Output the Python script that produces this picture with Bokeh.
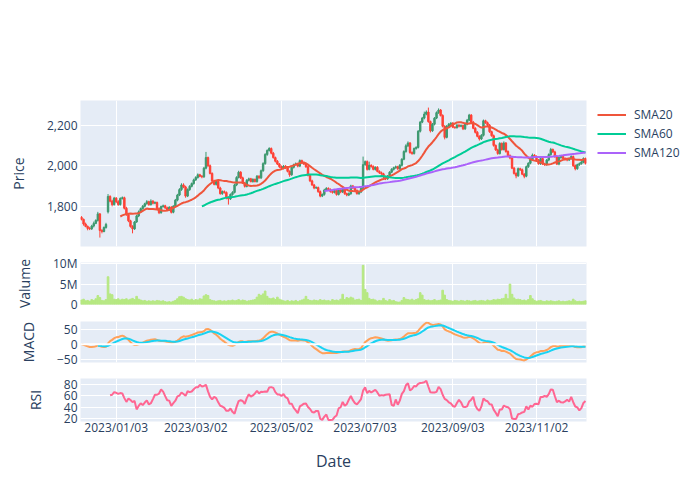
import pandas as pd
from bokeh.plotting import figure
from bokeh.layouts import column
from bokeh.models import (ColumnDataSource, Range1d, FixedTicker, NumeralTickFormatter,
                          Legend, LegendItem, Span)
from bokeh.embed import file_html
from bokeh.resources import INLINE

# ---------------- data ----------------
tick_labels = ["2023/01/03", "2023/03/02", "2023/05/02", "2023/07/03", "2023/09/03", "2023/11/02"]
tick_index = [17, 56, 98, 139, 182, 223]

opens = [
    1745, 1735, 1712, 1700, 1690, 1688, 1702, 1715, 1730, 1762,
    1680, 1675, 1695, 1772, 1848, 1825, 1808, 1840, 1822, 1808,
    1838, 1842, 1790, 1758, 1728, 1700, 1688, 1722, 1752, 1772,
    1788, 1800, 1812, 1822, 1808, 1825, 1815, 1818, 1788, 1768,
    1798, 1802, 1792, 1782, 1795, 1770, 1800, 1830, 1855, 1882,
    1905, 1895, 1850, 1882, 1898, 1912, 1930, 1942, 1955, 1948,
    1945, 1988, 2040, 2000, 1962, 1925, 1908, 1922, 1890, 1862,
    1872, 1868, 1842, 1836, 1858, 1868, 1905, 1942, 1968, 1940,
    1915, 1898, 1928, 1935, 1922, 1932, 1922, 1948, 1940, 1975,
    2010, 2055, 2075, 2085, 2062, 2040, 2022, 2008, 1995, 1988,
    1998, 1990, 1972, 1955, 1992, 2005, 2010, 1998, 2025, 2015,
    2008, 1995, 1952, 1925, 1905, 1890, 1892, 1872, 1850, 1858,
    1880, 1888, 1882, 1872, 1868, 1878, 1858, 1880, 1870, 1888,
    1862, 1855, 1862, 1900, 1890, 1878, 1862, 1870, 1888, 2005,
    2020, 1982, 2002, 1996, 1982, 1992, 1972, 1965, 1960, 1945,
    1935, 1948, 1968, 1982, 1990, 1995, 1985, 2002, 2032, 2070,
    2098, 2112, 2065, 2060, 2085, 2090, 2170, 2215, 2235, 2255,
    2265, 2218, 2172, 2205, 2235, 2262, 2275, 2248, 2195, 2140,
    2195, 2205, 2210, 2190, 2188, 2200, 2195, 2198, 2182, 2205,
    2225, 2250, 2215, 2185, 2165, 2145, 2132, 2150, 2222, 2212,
    2200, 2168, 2148, 2100, 2078, 2060, 2110, 2080, 2112, 2070,
    2050, 2038, 1988, 1962, 1950, 1985, 1980, 1958, 1948, 1995,
    2012, 2030, 2052, 2045, 2028, 2010, 2035, 2008, 2005, 2028,
    2055, 2080, 2068, 2045, 2008, 2040, 2045, 2036, 2030, 2028,
    2035, 2045, 2000, 1985, 2005, 2010, 2018, 2035,
]

highs = [
    1751, 1739, 1719, 1705, 1698, 1708, 1724, 1735, 1772, 1766,
    1687, 1700, 1718, 1860, 1854, 1832, 1846, 1845, 1830, 1844,
    1848, 1847, 1797, 1764, 1733, 1706, 1727, 1758, 1779, 1793,
    1806, 1817, 1830, 1827, 1834, 1830, 1824, 1823, 1794, 1803,
    1808, 1807, 1798, 1800, 1801, 1805, 1836, 1861, 1889, 1913,
    1913, 1901, 1888, 1904, 1917, 1936, 1948, 1962, 1960, 1954,
    1994, 2068, 2045, 2006, 1967, 1931, 1928, 1927, 1896, 1878,
    1878, 1873, 1848, 1863, 1874, 1911, 1948, 1975, 1973, 1946,
    1920, 1934, 1941, 1940, 1938, 1937, 1954, 1953, 1981, 2017,
    2062, 2081, 2091, 2090, 2068, 2045, 2028, 2013, 2001, 2003,
    2003, 1996, 1977, 1998, 2010, 2016, 2015, 2031, 2030, 2021,
    2013, 2001, 1957, 1931, 1910, 1898, 1897, 1878, 1863, 1886,
    1894, 1893, 1888, 1877, 1884, 1883, 1886, 1885, 1894, 1893,
    1867, 1868, 1906, 1905, 1896, 1883, 1876, 1893, 2045, 2026,
    2026, 2020, 2007, 2002, 1997, 1998, 1977, 1971, 1965, 1951,
    1954, 1973, 1988, 1995, 2001, 2000, 2008, 2037, 2076, 2106,
    2120, 2117, 2071, 2090, 2096, 2176, 2221, 2241, 2267, 2273,
    2287, 2223, 2211, 2240, 2268, 2283, 2280, 2254, 2200, 2201,
    2211, 2215, 2216, 2195, 2206, 2205, 2204, 2203, 2211, 2231,
    2256, 2255, 2221, 2190, 2171, 2150, 2156, 2228, 2227, 2218,
    2206, 2173, 2154, 2105, 2084, 2116, 2115, 2120, 2117, 2076,
    2056, 2043, 1994, 1967, 1991, 1990, 1986, 1963, 2001, 2017,
    2036, 2060, 2057, 2051, 2033, 2041, 2040, 2014, 2033, 2061,
    2088, 2085, 2074, 2050, 2046, 2050, 2051, 2041, 2036, 2040,
    2051, 2050, 2006, 2010, 2016, 2023, 2041, 2040,
]

lows = [
    1730, 1704, 1696, 1681, 1682, 1683, 1695, 1711, 1724, 1645,
    1666, 1671, 1689, 1764, 1819, 1799, 1803, 1815, 1802, 1803,
    1833, 1784, 1753, 1721, 1694, 1666, 1683, 1718, 1746, 1767,
    1783, 1794, 1808, 1802, 1803, 1809, 1810, 1782, 1761, 1763,
    1793, 1786, 1777, 1776, 1764, 1765, 1795, 1824, 1850, 1876,
    1889, 1842, 1845, 1876, 1893, 1906, 1925, 1936, 1943, 1938,
    1940, 1982, 1994, 1957, 1919, 1903, 1902, 1884, 1857, 1856,
    1862, 1834, 1808, 1831, 1852, 1863, 1899, 1937, 1934, 1910,
    1892, 1893, 1922, 1917, 1916, 1917, 1916, 1935, 1934, 1970,
    2005, 2049, 2070, 2056, 2035, 2016, 2003, 1989, 1983, 1982,
    1984, 1967, 1945, 1950, 1986, 2000, 1992, 1993, 2009, 2003,
    1989, 1947, 1919, 1900, 1884, 1885, 1866, 1844, 1845, 1852,
    1875, 1876, 1867, 1862, 1863, 1852, 1853, 1864, 1865, 1856,
    1849, 1850, 1856, 1885, 1872, 1857, 1856, 1865, 1882, 2000,
    1976, 1977, 1990, 1977, 1976, 1967, 1959, 1955, 1939, 1929,
    1930, 1942, 1963, 1976, 1985, 1979, 1980, 1996, 2027, 2064,
    2092, 2059, 2054, 2055, 2079, 2085, 2164, 2210, 2229, 2249,
    2212, 2164, 2167, 2199, 2230, 2256, 2243, 2189, 2130, 2135,
    2190, 2199, 2185, 2182, 2183, 2189, 2190, 2176, 2177, 2199,
    2220, 2209, 2180, 2159, 2140, 2124, 2127, 2144, 2207, 2194,
    2162, 2143, 2094, 2073, 2054, 2055, 2074, 2075, 2064, 2045,
    2032, 1983, 1956, 1938, 1945, 1974, 1953, 1938, 1943, 1989,
    2007, 2024, 2040, 2022, 2005, 2004, 2003, 1999, 2000, 2022,
    2049, 2063, 2039, 2003, 2002, 2035, 2030, 2025, 2022, 2023,
    2030, 1994, 1977, 1980, 1999, 2005, 2012, 2006,
]

closes = [
    1735, 1712, 1700, 1690, 1688, 1702, 1715, 1730, 1762, 1680,
    1675, 1695, 1710, 1848, 1825, 1808, 1840, 1822, 1808, 1838,
    1842, 1790, 1758, 1728, 1700, 1688, 1722, 1752, 1772, 1788,
    1800, 1812, 1822, 1808, 1825, 1815, 1818, 1788, 1768, 1798,
    1802, 1792, 1782, 1795, 1770, 1800, 1830, 1855, 1882, 1905,
    1895, 1850, 1882, 1898, 1912, 1930, 1942, 1955, 1948, 1945,
    1988, 2040, 2000, 1962, 1925, 1908, 1922, 1890, 1862, 1872,
    1868, 1842, 1836, 1858, 1868, 1905, 1942, 1968, 1940, 1915,
    1898, 1928, 1935, 1922, 1932, 1922, 1948, 1940, 1975, 2010,
    2055, 2075, 2085, 2062, 2040, 2022, 2008, 1995, 1988, 1998,
    1990, 1972, 1955, 1992, 2005, 2010, 1998, 2025, 2015, 2008,
    1995, 1952, 1925, 1905, 1890, 1892, 1872, 1850, 1858, 1880,
    1888, 1882, 1872, 1868, 1878, 1858, 1880, 1870, 1888, 1862,
    1855, 1862, 1900, 1890, 1878, 1862, 1870, 1888, 2005, 2020,
    1982, 2002, 1996, 1982, 1992, 1972, 1965, 1960, 1945, 1935,
    1948, 1968, 1982, 1990, 1995, 1985, 2002, 2032, 2070, 2098,
    2112, 2065, 2060, 2085, 2090, 2170, 2215, 2235, 2255, 2265,
    2218, 2172, 2205, 2235, 2262, 2275, 2248, 2195, 2140, 2195,
    2205, 2210, 2190, 2188, 2200, 2195, 2198, 2182, 2205, 2225,
    2250, 2215, 2185, 2165, 2145, 2132, 2150, 2222, 2212, 2200,
    2168, 2148, 2100, 2078, 2060, 2110, 2080, 2112, 2070, 2050,
    2038, 1988, 1962, 1950, 1985, 1980, 1958, 1948, 1995, 2012,
    2030, 2052, 2045, 2028, 2010, 2035, 2008, 2005, 2028, 2055,
    2080, 2068, 2045, 2008, 2040, 2045, 2036, 2030, 2028, 2035,
    2045, 2000, 1985, 2005, 2010, 2018, 2035, 2012,
]

volume_millions = [
    1.1, 1.3, 0.9, 1.0, 0.8, 1.2, 1.0, 1.4, 2.2, 1.7,
    1.0, 0.9, 1.2, 6.8, 2.6, 2.4, 1.3, 1.2, 1.4, 1.1,
    1.3, 1.2, 1.4, 1.1, 1.3, 1.5, 1.2, 2.0, 1.3, 1.1,
    0.9, 1.0, 0.8, 0.9, 0.8, 0.9, 0.8, 1.0, 0.9, 0.8,
    0.9, 0.7, 0.6, 0.7, 0.6, 0.8, 1.0, 1.4, 1.9, 2.0,
    1.8, 1.4, 1.2, 1.1, 1.3, 1.0, 1.2, 1.1, 1.4, 1.3,
    2.1, 2.4, 2.2, 1.2, 1.0, 0.9, 0.8, 0.9, 1.0, 0.8,
    0.9, 0.8, 1.0, 0.9, 1.1, 0.9, 1.0, 1.2, 0.9, 1.1,
    1.0, 0.8, 0.9, 1.0, 1.1, 1.2, 1.8, 2.5, 2.2, 2.6,
    3.3, 2.0, 1.5, 1.4, 1.6, 1.2, 1.8, 1.3, 1.1, 0.9,
    0.8, 1.0, 0.7, 0.9, 0.8, 1.0, 0.7, 0.9, 1.1, 1.3,
    2.0, 1.2, 1.0, 0.9, 1.1, 1.0, 0.9, 1.2, 1.0, 1.1,
    0.9, 1.0, 0.8, 1.2, 1.0, 1.1, 0.9, 1.3, 2.5, 1.2,
    1.7, 1.5, 1.8, 1.6, 1.1, 1.2, 1.3, 1.0, 9.6, 3.7,
    2.9, 1.5, 1.2, 1.3, 1.1, 0.8, 1.0, 0.9, 1.5, 1.0,
    0.8, 1.2, 0.9, 1.0, 0.7, 0.6, 0.6, 1.0, 1.7, 1.3,
    1.2, 1.1, 1.3, 1.0, 1.2, 1.4, 2.9, 2.3, 1.2, 1.0,
    1.1, 0.9, 1.0, 1.2, 0.9, 1.0, 1.1, 3.5, 2.3, 1.2,
    1.0, 0.9, 0.8, 1.0, 0.9, 0.8, 1.0, 0.9, 0.8, 1.0,
    0.9, 0.8, 0.9, 1.0, 0.8, 0.9, 1.0, 0.9, 0.8, 1.1,
    0.9, 1.0, 1.2, 1.1, 1.3, 1.2, 1.4, 1.5, 2.5, 1.4,
    5.0, 2.5, 1.6, 1.2, 1.3, 1.2, 1.0, 1.1, 0.9, 1.2,
    2.2, 1.4, 1.0, 0.8, 0.9, 1.0, 0.8, 0.7, 0.9, 0.8,
    0.9, 0.8, 0.7, 0.8, 0.9, 0.7, 0.8, 0.7, 0.8, 0.9,
    0.8, 1.3, 0.9, 0.7, 0.8, 0.7, 0.8, 0.9,
]

n = len(closes)
assert len(opens) == n and len(highs) == n and len(lows) == n and len(volume_millions) == n, \
    (len(opens), len(highs), len(lows), len(closes), len(volume_millions))

# ---------------- indicators (derived from the closes) ----------------
idx = list(range(n))
s = pd.Series(closes, dtype=float)
sma20 = s.rolling(20).mean()
sma60 = s.rolling(60).mean()
sma120 = s.rolling(120).mean()
ema12 = s.ewm(span=12, adjust=False).mean()
ema26 = s.ewm(span=26, adjust=False).mean()
macd = ema12 - ema26
signal = macd.ewm(span=9, adjust=False, min_periods=9).mean()
delta = s.diff()
gain = delta.clip(lower=0).rolling(14).mean()
loss = (-delta.clip(upper=0)).rolling(14).mean()
rsi = 100 - 100 / (1 + gain / loss)

INC, DEC = "#3D9970", "#FF4136"
colors = [INC if c >= o else DEC for o, c in zip(opens, closes)]

src = ColumnDataSource(dict(
    x=idx, open=opens, high=highs, low=lows, close=closes,
    top=[max(o, c) for o, c in zip(opens, closes)],
    bottom=[min(o, c) for o, c in zip(opens, closes)],
    color=colors, vol=[v * 1e6 for v in volume_millions],
    sma20=sma20.tolist(), sma60=sma60.tolist(), sma120=sma120.tolist(),
    macd=macd.tolist(), signal=signal.tolist(), rsi=rsi.tolist(),
))

FONT = "Open Sans"
TXT = "#2a3f5f"
BG = "#E5ECF6"
xr = Range1d(-0.5, n - 0.5)


def make_fig(frame_h, yr, top, bottom, yticks, ylabel, bottom_axis=False):
    p = figure(x_range=xr, y_range=Range1d(*yr), frame_width=506, frame_height=frame_h,
               output_backend="svg", toolbar_location=None,
               x_axis_location="below" if bottom_axis else None,
               min_border_left=80, min_border_right=106,
               min_border_top=top, min_border_bottom=bottom,
               background_fill_color=BG, border_fill_color="white")
    p.outline_line_color = None
    for g in p.xgrid:
        g.ticker = FixedTicker(ticks=tick_index)
    p.grid.grid_line_color = "white"
    p.grid.grid_line_width = 1
    ya = p.yaxis[0]
    ya.ticker = FixedTicker(ticks=yticks)
    ya.axis_line_color = None
    ya.major_tick_line_color = None
    ya.minor_tick_line_color = None
    ya.major_tick_out = 0
    ya.major_tick_in = 0
    ya.minor_tick_out = 0
    ya.major_label_standoff = 3
    ya.major_label_text_font = FONT
    ya.major_label_text_font_size = "12px"
    ya.major_label_text_color = TXT
    ya.axis_label = ylabel
    ya.axis_label_text_font = FONT
    ya.axis_label_text_font_size = "14px"
    ya.axis_label_text_font_style = "normal"
    ya.axis_label_text_color = TXT
    ya.axis_label_standoff = 16
    return p


# price panel
p1 = make_fig(146, (1601, 2322), 100, 8, [1800, 2000, 2200], "Price")
p1.yaxis[0].formatter = NumeralTickFormatter(format="0,0")
p1.segment(x0="x", y0="high", x1="x", y1="low", color="color", line_width=1, source=src)
p1.vbar(x="x", width=0.7, top="top", bottom="bottom", fill_color="color",
        line_color="color", line_width=1, source=src)
r20 = p1.line("x", "sma20", color="#EF553B", line_width=2, source=src)
r60 = p1.line("x", "sma60", color="#00CC96", line_width=2, source=src)
r120 = p1.line("x", "sma120", color="#AB63FA", line_width=2, source=src)
legend = Legend(items=[LegendItem(label="SMA20", renderers=[r20]),
                       LegendItem(label="SMA60", renderers=[r60]),
                       LegendItem(label="SMA120", renderers=[r120])],
                location=(11, 84), margin=0, padding=5, spacing=0,
                glyph_width=29, glyph_height=19, label_height=19, label_standoff=8,
                label_text_font=FONT, label_text_font_size="12px", label_text_color=TXT,
                background_fill_alpha=0, border_line_color=None)
p1.add_layout(legend, "right")

# volume panel
p2 = make_fig(42, (0, 10.3e6), 8, 8, [0, 5000000, 10000000], "Valume")
p2.yaxis[0].major_label_overrides = {0: "0", 5000000: "5M", 10000000: "10M"}
p2.vbar(x="x", width=0.8, top="vol", bottom=0, color="#B6E880", source=src)

# MACD panel
p3 = make_fig(41, (-61.5, 77), 9, 8, [-50, 0, 50], "MACD")
p3.yaxis[0].major_label_overrides = {-50: "\u221250", 0: "0", 50: "50"}
p3.add_layout(Span(location=0, dimension="width", line_color="white", line_width=2))
p3.line("x", "macd", color="#FFA15A", line_width=2, source=src)
p3.line("x", "signal", color="#19D3F3", line_width=2, source=src)

# RSI panel
p4 = make_fig(43, (15.3, 90.5), 8, 56, [20, 40, 60, 80], "RSI", bottom_axis=True)
p4.line("x", "rsi", color="#FF6692", line_width=2, source=src)
xa = p4.xaxis[0]
xa.ticker = FixedTicker(ticks=tick_index)
xa.major_label_overrides = dict(zip(tick_index, tick_labels))
xa.axis_line_color = None
xa.major_tick_line_color = None
xa.minor_tick_line_color = None
xa.major_tick_out = 0
xa.major_tick_in = 0
xa.minor_tick_out = 0
xa.major_label_standoff = -3
xa.major_label_text_font = FONT
xa.major_label_text_font_size = "12px"
xa.major_label_text_color = TXT
xa.axis_label = "Date"
xa.axis_label_text_font = FONT
xa.axis_label_text_font_size = "16px"
xa.axis_label_text_font_style = "normal"
xa.axis_label_text_color = TXT
xa.axis_label_standoff = 11

layout = column(p1, p2, p3, p4, spacing=0)
open("out.html", "w").write(file_html(layout, INLINE))
